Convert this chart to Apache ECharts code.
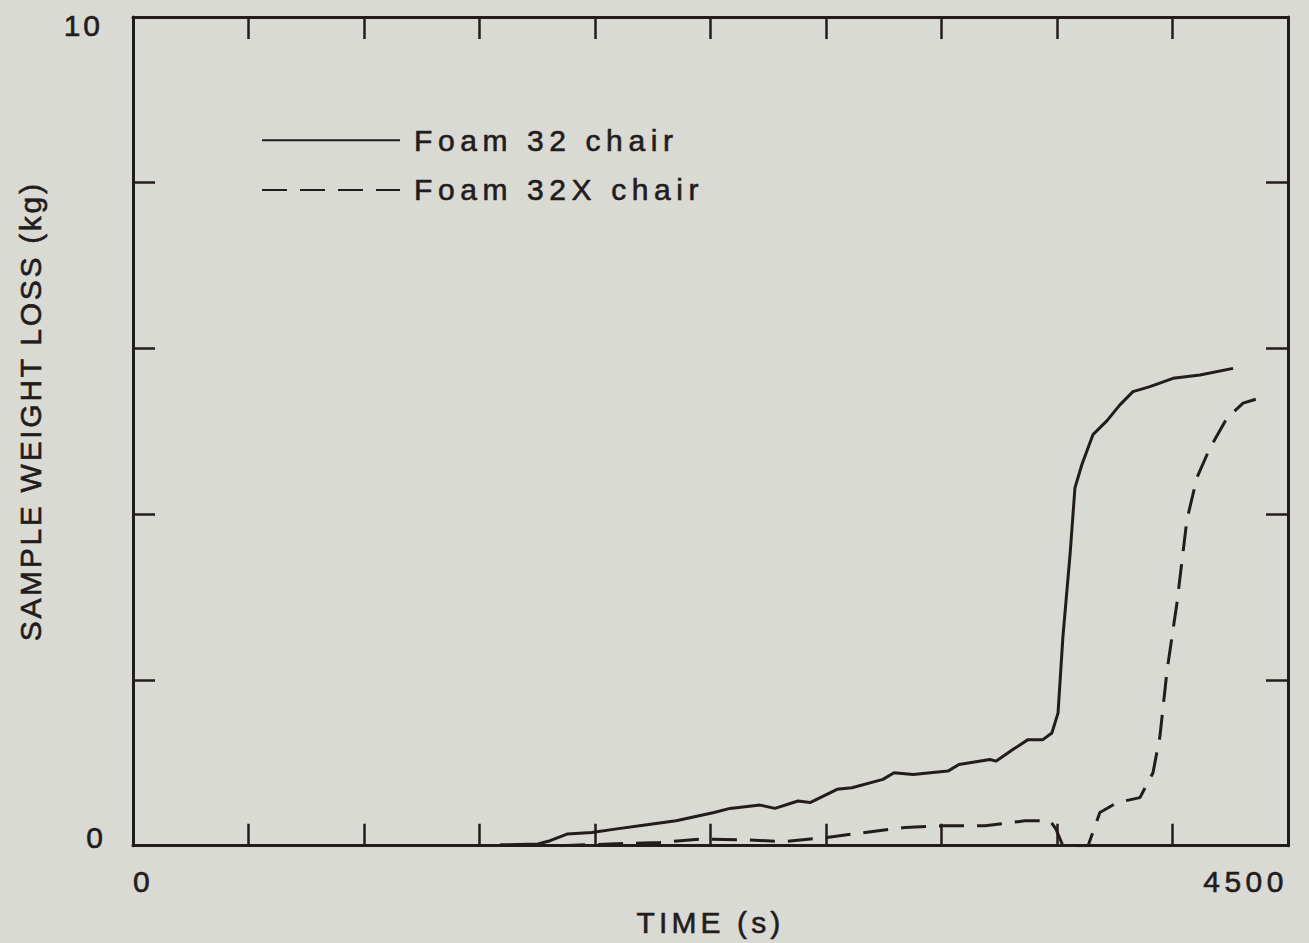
<!DOCTYPE html>
<html>
<head>
<meta charset="utf-8">
<script src="https://cdn.jsdelivr.net/npm/echarts@6/dist/echarts.min.js"></script>
<style>
html,body{margin:0;padding:0;background:#d9dad4;}
#chart{width:1309px;height:943px;}
</style>
</head>
<body>
<div id="chart"></div>
<script>
// ---- data (time in s, sample weight loss in kg) ----
const time32 = [1430, 1578, 1625, 1691, 1788, 1878, 1995, 2116, 2264, 2326, 2443, 2501, 2591, 2638, 2743, 2801, 2922, 2965, 3039, 3175, 3218, 3339, 3362, 3428, 3487, 3545, 3580, 3604, 3623, 3651, 3670, 3697, 3740, 3795, 3845, 3896, 3962, 4052, 4157, 4286];
const loss32 = [0.01, 0.02, 0.06, 0.14, 0.16, 0.20, 0.25, 0.30, 0.40, 0.45, 0.49, 0.45, 0.54, 0.52, 0.68, 0.70, 0.80, 0.88, 0.86, 0.90, 0.98, 1.04, 1.02, 1.16, 1.28, 1.28, 1.36, 1.60, 2.52, 3.52, 4.32, 4.60, 4.96, 5.13, 5.32, 5.48, 5.54, 5.64, 5.68, 5.76];
const time32X = [1664, 1858, 2053, 2209, 2384, 2540, 2704, 2852, 3008, 3164, 3319, 3475, 3573, 3596, 3620, 3670, 3721, 3767, 3834, 3923, 3974, 4001, 4029, 4067, 4106, 4145, 4196, 4262, 4325, 4418];
const loss32X = [0.00, 0.02, 0.04, 0.08, 0.07, 0.05, 0.10, 0.16, 0.22, 0.24, 0.24, 0.30, 0.30, 0.20, 0.02, 0.00, 0.00, 0.40, 0.52, 0.58, 0.88, 1.32, 2.12, 2.92, 3.93, 4.44, 4.80, 5.16, 5.34, 5.43];
const seriesNames = ['Foam 32 chair', 'Foam 32X chair'];
const xLabelValues = [0, 4500];
const yLabelValues = [0, 10];

const ink = '#231c1c';
const font = 'Liberation Sans';
const fs = 30;
const pairs = (xs, ys) => xs.map((x, i) => [x, ys[i]]);

const chart = echarts.init(document.getElementById('chart'), null, {renderer: 'svg'});

const tick = {inside: true, length: 22, lineStyle: {color: ink, width: 2.5}};
const line = {onZero: false, lineStyle: {color: ink, width: 3}};
const txt = {fontFamily: font, fontSize: fs, color: ink, textBorderColor: ink, textBorderWidth: 0.6};

const option = {
  backgroundColor: '#d9dad4',
  animation: false,
  grid: {left: 133, right: 21, top: 17, bottom: 93},
  legend: {
    orient: 'vertical', left: 256, top: 120,
    itemWidth: 138, itemHeight: 28, itemGap: 19,
    selectedMode: false,
    data: seriesNames,
    itemStyle: {opacity: 0},
    textStyle: Object.assign({}, txt, {padding: [0, 0, 0, 9]})
  },
  xAxis: [{
    type: 'value', min: 0, max: 4500, interval: 450, position: 'bottom',
    name: 'TIME (s)', nameLocation: 'middle', nameGap: 62,
    nameTextStyle: txt,
    axisLine: line, axisTick: tick, splitLine: {show: false},
    axisLabel: Object.assign({}, txt, {
      margin: 21,
      alignMinLabel: 'left', alignMaxLabel: 'right',
      formatter: v => xLabelValues.includes(v) ? String(v) : ''
    })
  }, {
    type: 'value', min: 0, max: 4500, interval: 450, position: 'top',
    axisLine: line, axisTick: tick, splitLine: {show: false}, axisLabel: {show: false}
  }],
  yAxis: [{
    type: 'value', min: 0, max: 10, interval: 2, position: 'left',
    name: 'SAMPLE WEIGHT LOSS (kg)', nameLocation: 'middle', nameGap: 88,
    nameTextStyle: Object.assign({}, txt, {padding: [0, 0, 0, 40]}),
    axisLine: line, axisTick: tick, splitLine: {show: false},
    axisLabel: Object.assign({}, txt, {
      margin: 30, lineHeight: 16,
      verticalAlignMinLabel: 'bottom', verticalAlignMaxLabel: 'top',
      formatter: v => yLabelValues.includes(v) ? String(v) : ''
    })
  }, {
    type: 'value', min: 0, max: 10, interval: 2, position: 'right',
    axisLine: line, axisTick: tick, splitLine: {show: false}, axisLabel: {show: false}
  }],
  series: [{
    type: 'line', name: seriesNames[0], data: pairs(time32, loss32),
    symbol: 'none', smooth: false,
    lineStyle: {color: ink, width: 3, type: 'solid'}, itemStyle: {color: ink}
  }, {
    type: 'line', name: seriesNames[1], data: pairs(time32X, loss32X),
    symbol: 'none', smooth: false,
    lineStyle: {color: ink, width: 3, type: [25, 13]}, itemStyle: {color: ink}
  }]
};
chart.setOption(option);

const spacing = {
  'Foam 32 chair': 5.6, 'Foam 32X chair': 5.6, '4500': 4.5, '10': 3,
  'TIME (s)': 4.1, 'SAMPLE WEIGHT LOSS (kg)': 2.7
};
function applySpacing() {
  document.querySelectorAll('#chart svg text').forEach(t => {
    const s = spacing[t.textContent.trim()];
    if (s) t.style.letterSpacing = s + 'px';
  });
}
applySpacing();
chart.on('finished', applySpacing);
setTimeout(applySpacing, 50);
</script>
</body>
</html>
